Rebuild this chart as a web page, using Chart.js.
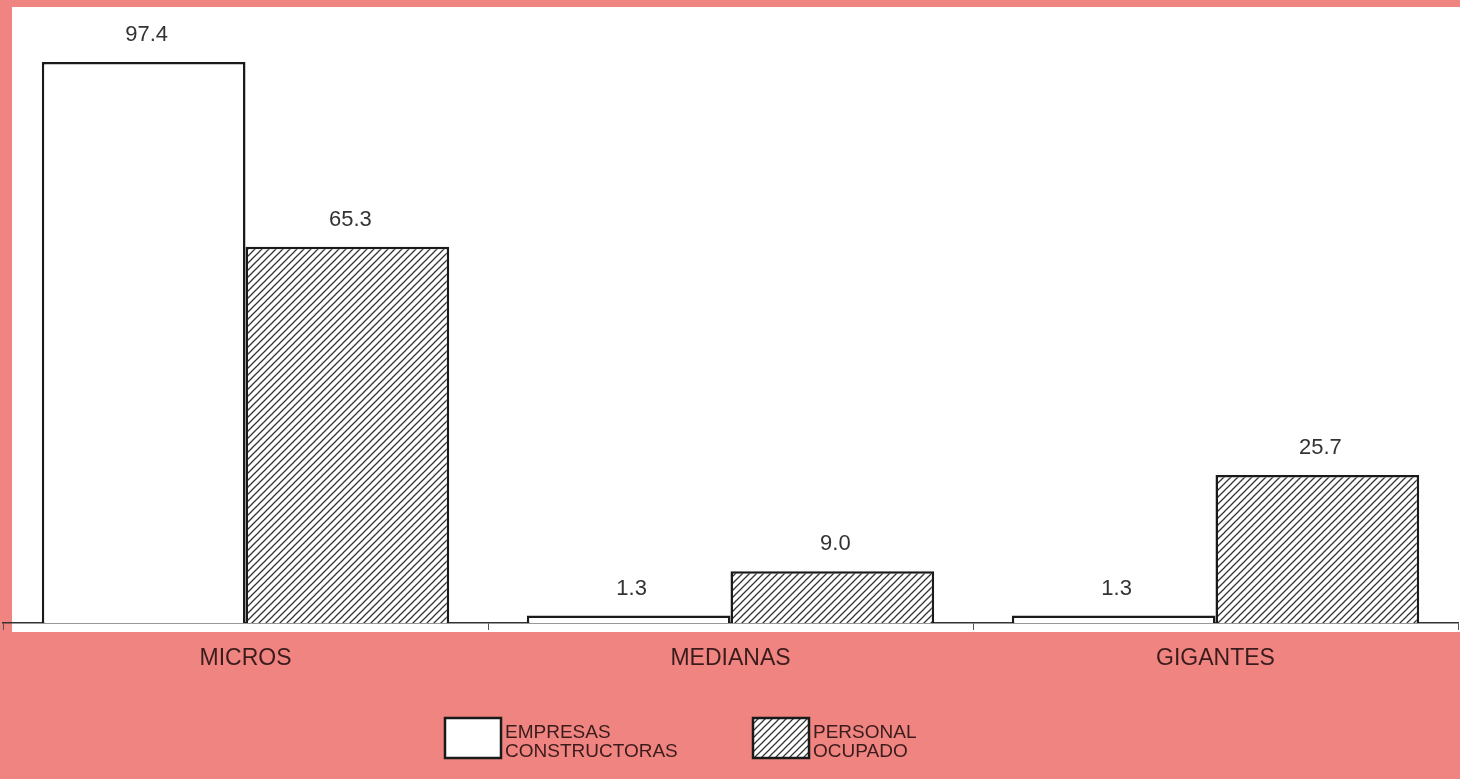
<!DOCTYPE html>
<html>
<head>
<meta charset="utf-8">
<script src="https://cdn.jsdelivr.net/npm/chart.js@4.4.1/dist/chart.umd.min.js"></script>
<style>
  html, body { margin: 0; padding: 0; background: #ef8481; }
  #wrap { width: 1460px; height: 779px; position: relative; }
</style>
</head>
<body>
<div id="wrap"><canvas id="c" width="1460" height="779"></canvas></div>
<script>
const categories = ['MICROS', 'MEDIANAS', 'GIGANTES'];
const seriesNames = ['EMPRESAS CONSTRUCTORAS', 'PERSONAL OCUPADO'];
const empresasValues = [97.4, 1.3, 1.3];
const personalValues = [65.3, 9.0, 25.7];

const PINK = '#ef8481';
const INK = '#3a1c1c';

function makeHatch() {
  const s = 7;
  const c = document.createElement('canvas');
  c.width = s; c.height = s;
  const g = c.getContext('2d');
  g.fillStyle = '#ffffff';
  g.fillRect(0, 0, s, s);
  g.strokeStyle = '#333333';
  g.lineWidth = 1.25;
  g.beginPath();
  g.moveTo(-1, s + 1); g.lineTo(s + 1, -1);
  g.moveTo(-1, 1); g.lineTo(1, -1);
  g.moveTo(s - 1, s + 1); g.lineTo(s + 1, s - 1);
  g.stroke();
  return g.createPattern(c, 'repeat');
}
const hatch = makeHatch();

const panelPlugin = {
  id: 'panel',
  beforeDraw(chart) {
    const ctx = chart.ctx;
    ctx.save();
    ctx.fillStyle = PINK;
    ctx.fillRect(0, 0, chart.width, chart.height);
    ctx.fillStyle = '#ffffff';
    ctx.fillRect(12, 7, chart.width - 12, 625);
    ctx.restore();
  }
};

const valueLabels = {
  id: 'valueLabels',
  afterDatasetsDraw(chart) {
    const ctx = chart.ctx;
    ctx.save();
    ctx.font = '22px "Liberation Sans", Arial, sans-serif';
    ctx.fillStyle = '#333333';
    ctx.textAlign = 'center';
    ctx.textBaseline = 'alphabetic';
    chart.data.datasets.forEach((ds, i) => {
      const meta = chart.getDatasetMeta(i);
      meta.data.forEach((bar, j) => {
        ctx.fillText(ds.data[j].toFixed(1), bar.x + 3, bar.y - 21);
      });
    });
    ctx.restore();
  }
};

const customLegend = {
  id: 'customLegend',
  afterDraw(chart) {
    const ctx = chart.ctx;
    const items = [
      { x: 445, fill: '#ffffff' },
      { x: 753, fill: hatch }
    ];
    ctx.save();
    ctx.font = '19px "Liberation Sans", Arial, sans-serif';
    ctx.textAlign = 'left';
    ctx.textBaseline = 'alphabetic';
    chart.data.datasets.forEach((ds, i) => {
      const it = items[i];
      ctx.fillStyle = it.fill;
      ctx.fillRect(it.x, 718, 56, 40);
      ctx.strokeStyle = '#1a1a1a';
      ctx.lineWidth = 2.5;
      ctx.strokeRect(it.x, 718, 56, 40);
      ctx.fillStyle = INK;
      const lines = ds.label.split(' ');
      lines.forEach((ln, k) => {
        ctx.fillText(ln, it.x + 60, 738 + k * 19);
      });
    });
    ctx.restore();
  }
};

new Chart(document.getElementById('c'), {
  type: 'bar',
  data: {
    labels: categories,
    datasets: [
      {
        label: seriesNames[0],
        data: empresasValues,
        backgroundColor: '#ffffff',
        borderColor: '#1a1a1a',
        borderWidth: 2.5,
        borderSkipped: 'bottom'
      },
      {
        label: seriesNames[1],
        data: personalValues,
        backgroundColor: hatch,
        borderColor: '#1a1a1a',
        borderWidth: 2.5,
        borderSkipped: 'bottom'
      }
    ]
  },
  options: {
    responsive: false,
    animation: false,
    devicePixelRatio: 1,
    layout: { padding: { top: 47, left: 3, right: 2, bottom: 0 } },
    datasets: {
      bar: { categoryPercentage: 0.84, barPercentage: 1.0 }
    },
    plugins: {
      legend: { display: false },
      tooltip: { enabled: false },
      title: { display: false }
    },
    scales: {
      x: {
        offset: true,
        afterFit(scale) { scale.height = 156; },
        border: { display: true, color: '#333333', width: 1.5 },
        grid: {
          offset: true,
          drawOnChartArea: false,
          drawTicks: true,
          tickLength: 7,
          color: '#555555',
          lineWidth: 1
        },
        ticks: {
          color: INK,
          padding: 15,
          font: { family: '"Liberation Sans", Arial, sans-serif', size: 23 }
        }
      },
      y: {
        display: false,
        min: 0,
        max: 100
      }
    }
  },
  plugins: [panelPlugin, valueLabels, customLegend]
});
</script>
</body>
</html>
